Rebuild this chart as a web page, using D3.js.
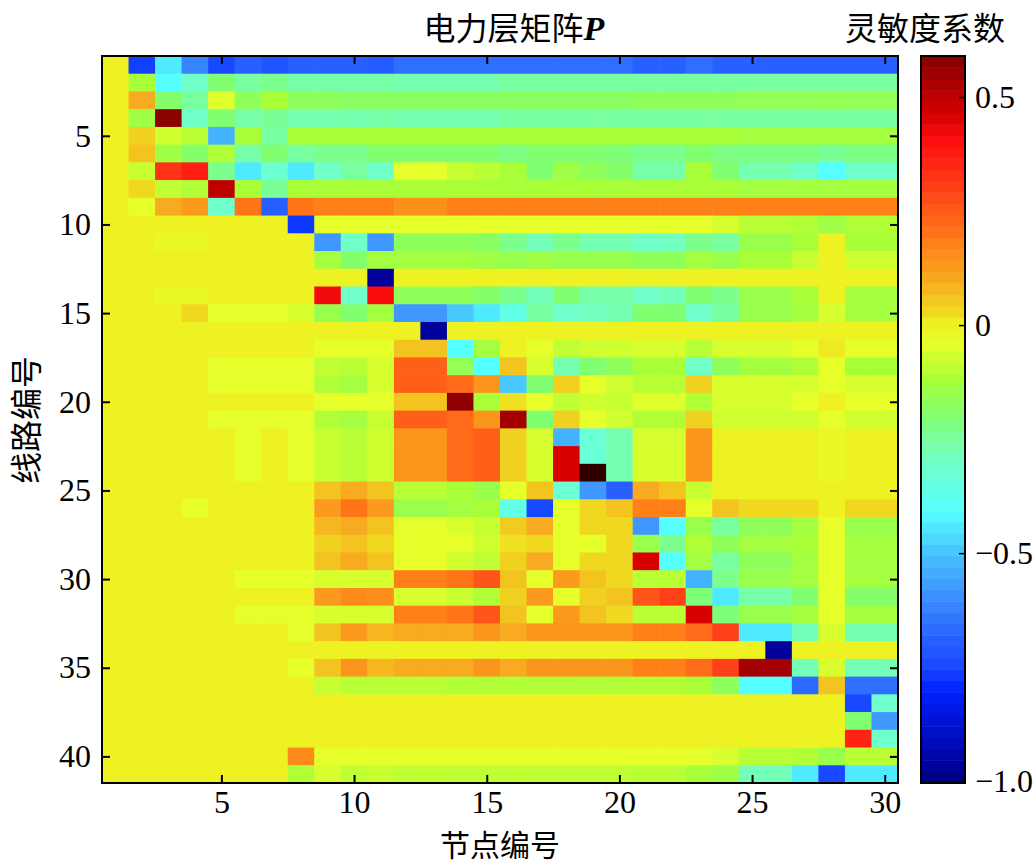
<!DOCTYPE html>
<html>
<head>
<meta charset="utf-8">
<script src="https://cdn.jsdelivr.net/npm/d3@7"></script>
<style>
  body { margin: 0; background: #fff; }
  svg text { font-family: "Liberation Serif", "Times New Roman", serif; fill: #000; }
  svg .cjk { font-family: "Noto Sans CJK SC", sans-serif; }
</style>
</head>
<body>
<svg id="chart" width="1035" height="866"></svg>
<script>
// node numbers (columns) and line numbers (rows)
const nodes = d3.range(1, 31);
const lines = d3.range(1, 42);
const xTicks = [5, 10, 15, 20, 25, 30];
const yTicks = [5, 10, 15, 20, 25, 30, 35, 40];
const cbTicks = [0.5, 0, -0.5, -1.0];
const cbTickLabels = ["0.5", "0", "\u22120.5", "\u22121.0"];

// sensitivity matrix P, one row per line, 30 nodes each
const P = [
  [0,-0.76,-0.44,-0.62,-0.75,-0.69,-0.72,-0.69,-0.69,-0.69,-0.7,-0.66,-0.66,-0.66,-0.66,-0.66,-0.66,-0.66,-0.66,-0.66,-0.69,-0.69,-0.66,-0.69,-0.69,-0.69,-0.69,-0.69,-0.69,-0.69],
  [0,-0.12,-0.41,-0.3,-0.2,-0.25,-0.23,-0.26,-0.26,-0.26,-0.26,-0.27,-0.27,-0.27,-0.27,-0.25,-0.25,-0.25,-0.25,-0.25,-0.25,-0.25,-0.25,-0.25,-0.25,-0.25,-0.25,-0.25,-0.25,-0.25],
  [0,0.1,-0.19,-0.25,-0.05,-0.17,-0.12,-0.17,-0.17,-0.18,-0.18,-0.18,-0.18,-0.18,-0.18,-0.18,-0.18,-0.18,-0.18,-0.18,-0.17,-0.17,-0.17,-0.17,-0.16,-0.16,-0.16,-0.16,-0.16,-0.16],
  [0,-0.14,0.58,-0.3,-0.2,-0.26,-0.24,-0.27,-0.27,-0.27,-0.26,-0.27,-0.27,-0.27,-0.27,-0.25,-0.25,-0.25,-0.25,-0.25,-0.25,-0.25,-0.25,-0.25,-0.25,-0.25,-0.25,-0.25,-0.25,-0.25],
  [0,0.04,-0.07,-0.1,-0.53,-0.12,-0.25,-0.12,-0.12,-0.12,-0.12,-0.12,-0.12,-0.12,-0.12,-0.12,-0.12,-0.12,-0.12,-0.12,-0.12,-0.12,-0.12,-0.12,-0.13,-0.13,-0.13,-0.13,-0.13,-0.13],
  [0,0.06,-0.14,-0.19,-0.11,-0.26,-0.2,-0.25,-0.23,-0.23,-0.2,-0.2,-0.2,-0.2,-0.2,-0.22,-0.2,-0.2,-0.2,-0.21,-0.23,-0.23,-0.2,-0.22,-0.22,-0.22,-0.22,-0.24,-0.22,-0.22],
  [0,-0.08,0.33,0.37,-0.23,-0.44,-0.32,-0.44,-0.3,-0.25,-0.3,-0.04,-0.04,-0.08,-0.1,-0.12,-0.2,-0.14,-0.17,-0.19,-0.26,-0.26,-0.12,-0.2,-0.27,-0.27,-0.3,-0.41,-0.3,-0.3],
  [0,0.03,-0.09,-0.11,0.5,-0.12,-0.24,-0.12,-0.12,-0.12,-0.12,-0.12,-0.12,-0.12,-0.12,-0.12,-0.12,-0.12,-0.12,-0.12,-0.12,-0.12,-0.12,-0.12,-0.13,-0.13,-0.13,-0.13,-0.13,-0.13],
  [0,-0.04,0.1,0.13,-0.31,0.2,-0.69,0.2,0.18,0.18,0.18,0.15,0.15,0.18,0.18,0.18,0.18,0.18,0.18,0.18,0.18,0.18,0.18,0.18,0.18,0.18,0.18,0.18,0.18,0.18],
  [0,0,0,0,0,0,0,-0.77,-0.04,-0.04,-0.04,-0.04,-0.04,-0.04,-0.04,-0.04,-0.04,-0.04,-0.04,-0.04,-0.04,-0.04,-0.04,-0.06,-0.1,-0.1,-0.11,-0.14,-0.11,-0.11],
  [0,0,-0.02,-0.02,0,0,0,0,-0.58,-0.3,-0.58,-0.17,-0.17,-0.17,-0.18,-0.23,-0.28,-0.23,-0.27,-0.27,-0.3,-0.29,-0.23,-0.25,-0.15,-0.15,-0.12,0,-0.12,-0.12],
  [0,0,0,0,0,0,0,0,-0.13,-0.19,-0.13,-0.13,-0.13,-0.13,-0.14,-0.15,-0.14,-0.15,-0.15,-0.15,-0.17,-0.17,-0.13,-0.15,-0.12,-0.12,-0.08,0,-0.07,-0.07],
  [0,0,0,0,0,0,0,0,0,0,-0.97,0,0,0,0,0,0,0,0,0,0,0,0,0,0,0,0,0,0,0],
  [0,0,-0.02,-0.02,0,0,0,0,0.42,-0.3,0.41,-0.17,-0.17,-0.17,-0.19,-0.23,-0.28,-0.2,-0.26,-0.26,-0.3,-0.28,-0.2,-0.23,-0.15,-0.15,-0.12,0,-0.13,-0.13],
  [0,0,0,0.03,-0.04,-0.04,-0.04,-0.06,-0.15,-0.2,-0.13,-0.58,-0.58,-0.49,-0.44,-0.36,-0.25,-0.31,-0.29,-0.27,-0.2,-0.2,-0.31,-0.25,-0.15,-0.15,-0.13,-0.06,-0.13,-0.13],
  [0,0,0,0,0,0,0,0,0,0,0,0,-0.97,0,0,0,0,0,0,0,0,0,0,0,0,0,0,0,0,0],
  [0,0,0,0,0,0,0,0,-0.04,-0.04,-0.04,0.06,0.06,-0.41,-0.13,0,-0.04,-0.09,-0.07,-0.07,-0.06,-0.06,-0.1,-0.06,-0.06,-0.06,-0.04,0.01,-0.04,-0.04],
  [0,0,0,0,-0.04,-0.04,-0.04,-0.04,-0.09,-0.1,-0.06,0.24,0.24,-0.16,-0.41,0.06,-0.06,-0.27,-0.2,-0.17,-0.12,-0.12,-0.3,-0.17,-0.13,-0.13,-0.11,-0.04,-0.12,-0.12],
  [0,0,0,0,-0.04,-0.04,-0.04,-0.04,-0.11,-0.13,-0.06,0.24,0.24,0.22,0.14,-0.49,-0.2,0.04,-0.04,-0.07,-0.1,-0.1,0.04,-0.06,-0.06,-0.06,-0.06,-0.04,-0.06,-0.06],
  [0,0,0,0,0,0,0,0,-0.04,-0.04,-0.04,0.06,0.06,0.57,-0.12,0.02,-0.04,-0.09,-0.07,-0.08,-0.05,-0.05,-0.11,-0.06,-0.06,-0.06,-0.04,0,-0.04,-0.04],
  [0,0,0,0,-0.04,-0.04,-0.04,-0.04,-0.11,-0.13,-0.08,0.24,0.24,0.22,0.14,0.54,-0.2,0.04,-0.04,-0.07,-0.11,-0.11,0.04,-0.07,-0.07,-0.07,-0.07,-0.04,-0.07,-0.07],
  [0,0,0,0,0,-0.04,0,-0.04,-0.08,-0.1,-0.07,0.14,0.14,0.22,0.24,0.04,-0.06,-0.53,-0.33,-0.27,-0.06,-0.06,0.14,0,0,0,0,-0.02,0,0],
  [0,0,0,0,0,-0.04,0,-0.04,-0.08,-0.1,-0.07,0.14,0.14,0.22,0.24,0.04,-0.06,0.46,-0.33,-0.27,-0.06,-0.06,0.14,0,0,0,0,-0.02,0,0],
  [0,0,0,0,0,-0.04,0,-0.04,-0.08,-0.1,-0.07,0.14,0.14,0.22,0.24,0.04,-0.06,0.46,0.6,-0.27,-0.06,-0.06,0.14,0,0,0,0,-0.02,0,0],
  [0,0,0,0,0,0,0,0,0.06,0.1,0.06,-0.1,-0.1,-0.12,-0.15,-0.04,0.06,-0.32,-0.58,-0.69,0.1,0.06,-0.08,0,0,0,0,0,0,0],
  [0,0,0,-0.04,0,0,0,0,0.13,0.2,0.13,-0.15,-0.15,-0.13,-0.12,-0.36,-0.75,-0.04,0.03,0.06,0.18,0.18,-0.04,0.06,0.03,0.03,0.03,0,0.03,0.03],
  [0,0,0,0,0,0,0,0,0.08,0.1,0.06,-0.04,-0.04,-0.06,-0.08,0.05,0.1,-0.04,0.03,0.03,-0.58,-0.41,-0.15,-0.25,-0.17,-0.17,-0.13,-0.04,-0.15,-0.15],
  [0,0,0,0,0,0,0,0,0.04,0.06,0.03,-0.04,-0.04,-0.04,-0.07,0.02,0.03,-0.04,-0.04,0.03,-0.15,-0.23,-0.11,-0.17,-0.13,-0.13,-0.12,-0.04,-0.13,-0.13],
  [0,0,0,0,0,0,0,0,0.06,0.1,0.06,-0.04,-0.04,-0.07,-0.09,0.04,0.1,-0.04,0.03,0.03,0.46,-0.41,-0.13,-0.25,-0.17,-0.17,-0.13,-0.04,-0.13,-0.13],
  [0,0,0,0,0,-0.04,-0.04,-0.04,-0.06,-0.06,-0.06,0.18,0.18,0.2,0.26,0.06,-0.04,0.13,0.06,0.03,-0.1,-0.1,-0.53,-0.23,-0.15,-0.15,-0.13,-0.04,-0.13,-0.13],
  [0,0,0,0,0,0,0,0,0.13,0.16,0.15,-0.06,-0.06,-0.08,-0.11,0.04,0.13,-0.04,0.04,0.06,0.26,0.3,-0.21,-0.44,-0.26,-0.26,-0.2,-0.04,-0.19,-0.19],
  [0,0,0,0,0,-0.04,-0.04,-0.04,-0.06,-0.06,-0.06,0.18,0.18,0.2,0.26,0.06,-0.04,0.13,0.06,0.03,-0.1,-0.1,0.46,-0.21,-0.15,-0.15,-0.13,-0.04,-0.13,-0.13],
  [0,0,0,0,0,0,0,-0.04,0.06,0.13,0.08,0.1,0.1,0.1,0.14,0.1,0.14,0.14,0.14,0.14,0.18,0.18,0.22,0.3,-0.44,-0.44,-0.28,-0.06,-0.27,-0.27],
  [0,0,0,0,0,0,0,0,0,0,0,0,0,0,0,0,0,0,0,0,0,0,0,0,0,-0.97,0,0,0,0],
  [0,0,0,0,0,0,0,-0.04,0.06,0.14,0.08,0.1,0.1,0.1,0.14,0.1,0.14,0.14,0.14,0.14,0.18,0.18,0.22,0.3,0.54,0.54,-0.28,-0.06,-0.28,-0.28],
  [0,0,0,0,0,0,0,0,-0.08,-0.1,-0.1,-0.1,-0.1,-0.11,-0.11,-0.11,-0.11,-0.11,-0.11,-0.11,-0.11,-0.11,-0.12,-0.17,-0.41,-0.41,-0.67,0.06,-0.66,-0.66],
  [0,0,0,0,0,0,0,0,0,0,0,0,0,0,0,0,0,0,0,0,0,0,0,0,0,0,0,0,-0.75,-0.31],
  [0,0,0,0,0,0,0,0,0,0,0,0,0,0,0,0,0,0,0,0,0,0,0,0,0,0,0,0,-0.2,-0.58],
  [0,0,0,0,0,0,0,0,0,0,0,0,0,0,0,0,0,0,0,0,0,0,0,0,0,0,0,0,0.36,-0.31],
  [0,0,0,0,0,0,0,0.16,-0.04,-0.04,-0.04,-0.04,-0.04,-0.04,-0.04,-0.04,-0.04,-0.04,-0.04,-0.04,-0.04,-0.04,-0.04,-0.06,-0.1,-0.1,-0.11,-0.15,-0.1,-0.1],
  [0,0,0,0,0,0,0,-0.11,-0.06,-0.09,-0.08,-0.09,-0.09,-0.09,-0.09,-0.09,-0.09,-0.09,-0.09,-0.09,-0.1,-0.1,-0.12,-0.14,-0.28,-0.28,-0.44,-0.75,-0.44,-0.44]
];

// jet-like colour map (value, colour) tuned to the printed figure
const cmapStops = [
  [-1.0, "#000080"], [-0.97, "#00009a"], [-0.8, "#0020ff"], [-0.75, "#1848ff"],
  [-0.69, "#2860ff"], [-0.58, "#4098ff"], [-0.49, "#48c8ff"], [-0.41, "#55ffff"],
  [-0.3, "#70ffc8"], [-0.25, "#78ffa0"], [-0.2, "#80ff70"], [-0.12, "#a8ff38"],
  [-0.04, "#e6ff2a"], [0, "#eef222"], [0.03, "#f0d820"], [0.1, "#f8aa20"],
  [0.18, "#ff8018"], [0.3, "#ff4018"], [0.4, "#ff1010"], [0.46, "#d80000"],
  [0.58, "#8b0000"], [0.6, "#300000"]
];
const color = d3.scaleLinear()
  .domain(cmapStops.map(d => d[0]))
  .range(cmapStops.map(d => d[1]))
  .interpolate(d3.interpolateRgb)
  .clamp(true);

const svg = d3.select("#chart");

// plot box
const plot = { left: 102, right: 898, top: 56, bottom: 783 };
const x = d3.scaleLinear().domain([0.5, 30.5]).range([plot.left, plot.right]);
const y = d3.scaleLinear().domain([0.5, 41.5]).range([plot.top, plot.bottom]);

// cells
const cells = [];
P.forEach((row, i) => row.forEach((v, j) => cells.push({ line: lines[i], node: nodes[j], v })));

svg.append("g")
  .selectAll("rect")
  .data(cells)
  .join("rect")
    .attr("x", d => x(d.node - 0.5))
    .attr("y", d => y(d.line - 0.5))
    .attr("width", x(1.5) - x(0.5) + 0.6)
    .attr("height", y(1.5) - y(0.5) + 0.6)
    .attr("fill", d => color(d.v));

// axes, ticks pointing inward on all four sides
const tickLen = 8;
const fontNum = "32px";

const xb = svg.append("g")
  .attr("transform", `translate(0,${plot.bottom})`)
  .call(d3.axisBottom(x).tickValues(xTicks).tickSizeInner(-tickLen).tickSizeOuter(0).tickPadding(7));
const yl = svg.append("g")
  .attr("transform", `translate(${plot.left},0)`)
  .call(d3.axisLeft(y).tickValues(yTicks).tickSizeInner(-tickLen).tickSizeOuter(0).tickPadding(11));
const xt = svg.append("g")
  .attr("transform", `translate(0,${plot.top})`)
  .call(d3.axisTop(x).tickValues(xTicks).tickSizeInner(-tickLen).tickSizeOuter(0).tickFormat(""));
const yr = svg.append("g")
  .attr("transform", `translate(${plot.right},0)`)
  .call(d3.axisRight(y).tickValues(yTicks).tickSizeInner(-tickLen).tickSizeOuter(0).tickFormat(""));

[xb, yl, xt, yr].forEach(g => {
  g.select(".domain").remove();
  g.selectAll(".tick line").attr("stroke", "#000").attr("stroke-width", 2);
  g.selectAll(".tick text")
    .style("font-family", '"Liberation Serif", serif')
    .style("font-size", fontNum)
    .attr("fill", "#000");
});

svg.append("rect")
  .attr("x", plot.left).attr("y", plot.top)
  .attr("width", plot.right - plot.left).attr("height", plot.bottom - plot.top)
  .attr("fill", "none").attr("stroke", "#000").attr("stroke-width", 2);

// titles
const title = svg.append("text")
  .attr("x", 514).attr("y", 40)
  .attr("text-anchor", "middle");
title.append("tspan").attr("class", "cjk").style("font-size", "32px").text("电力层矩阵");
title.append("tspan")
  .style("font-family", '"Liberation Serif", serif')
  .style("font-size", "34px").style("font-weight", "bold").style("font-style", "italic")
  .text("P");

svg.append("text")
  .attr("class", "cjk")
  .attr("x", 925).attr("y", 40)
  .attr("text-anchor", "middle")
  .style("font-size", "32px")
  .text("灵敏度系数");

svg.append("text")
  .attr("class", "cjk")
  .attr("x", 500).attr("y", 856)
  .attr("text-anchor", "middle")
  .style("font-size", "30px")
  .text("节点编号");

svg.append("text")
  .attr("class", "cjk")
  .attr("transform", "translate(38,420) rotate(-90)")
  .attr("text-anchor", "middle")
  .style("font-size", "32px")
  .text("线路编号");

// colour bar
const cb = { left: 921, right: 965, top: 56, bottom: 783 };
const cbMin = -1.004, cbMax = 0.59;
const cbY = d3.scaleLinear().domain([cbMin, cbMax]).range([cb.bottom, cb.top]);
const nLevels = 64;
const step = (cbMax - cbMin) / nLevels;
const bands = d3.range(nLevels).map(i => cbMin + i * step);

svg.append("g")
  .selectAll("rect")
  .data(bands)
  .join("rect")
    .attr("x", cb.left)
    .attr("y", d => cbY(d + step))
    .attr("width", cb.right - cb.left)
    .attr("height", d => cbY(d) - cbY(d + step) + 0.5)
    .attr("fill", d => color(d + step / 2));

svg.append("rect")
  .attr("x", cb.left).attr("y", cb.top)
  .attr("width", cb.right - cb.left).attr("height", cb.bottom - cb.top)
  .attr("fill", "none").attr("stroke", "#000").attr("stroke-width", 2);

const cbAxis = svg.append("g")
  .attr("transform", `translate(${cb.right},0)`)
  .call(d3.axisRight(cbY).tickValues(cbTicks).tickSizeInner(-6).tickSizeOuter(0).tickPadding(10)
    .tickFormat((d, i) => cbTickLabels[i]));
cbAxis.select(".domain").remove();
cbAxis.selectAll(".tick line").attr("stroke", "#000").attr("stroke-width", 1.5);
cbAxis.selectAll(".tick text")
  .style("font-family", '"Liberation Serif", serif')
  .style("font-size", fontNum)
  .attr("fill", "#000");
</script>
</body>
</html>
